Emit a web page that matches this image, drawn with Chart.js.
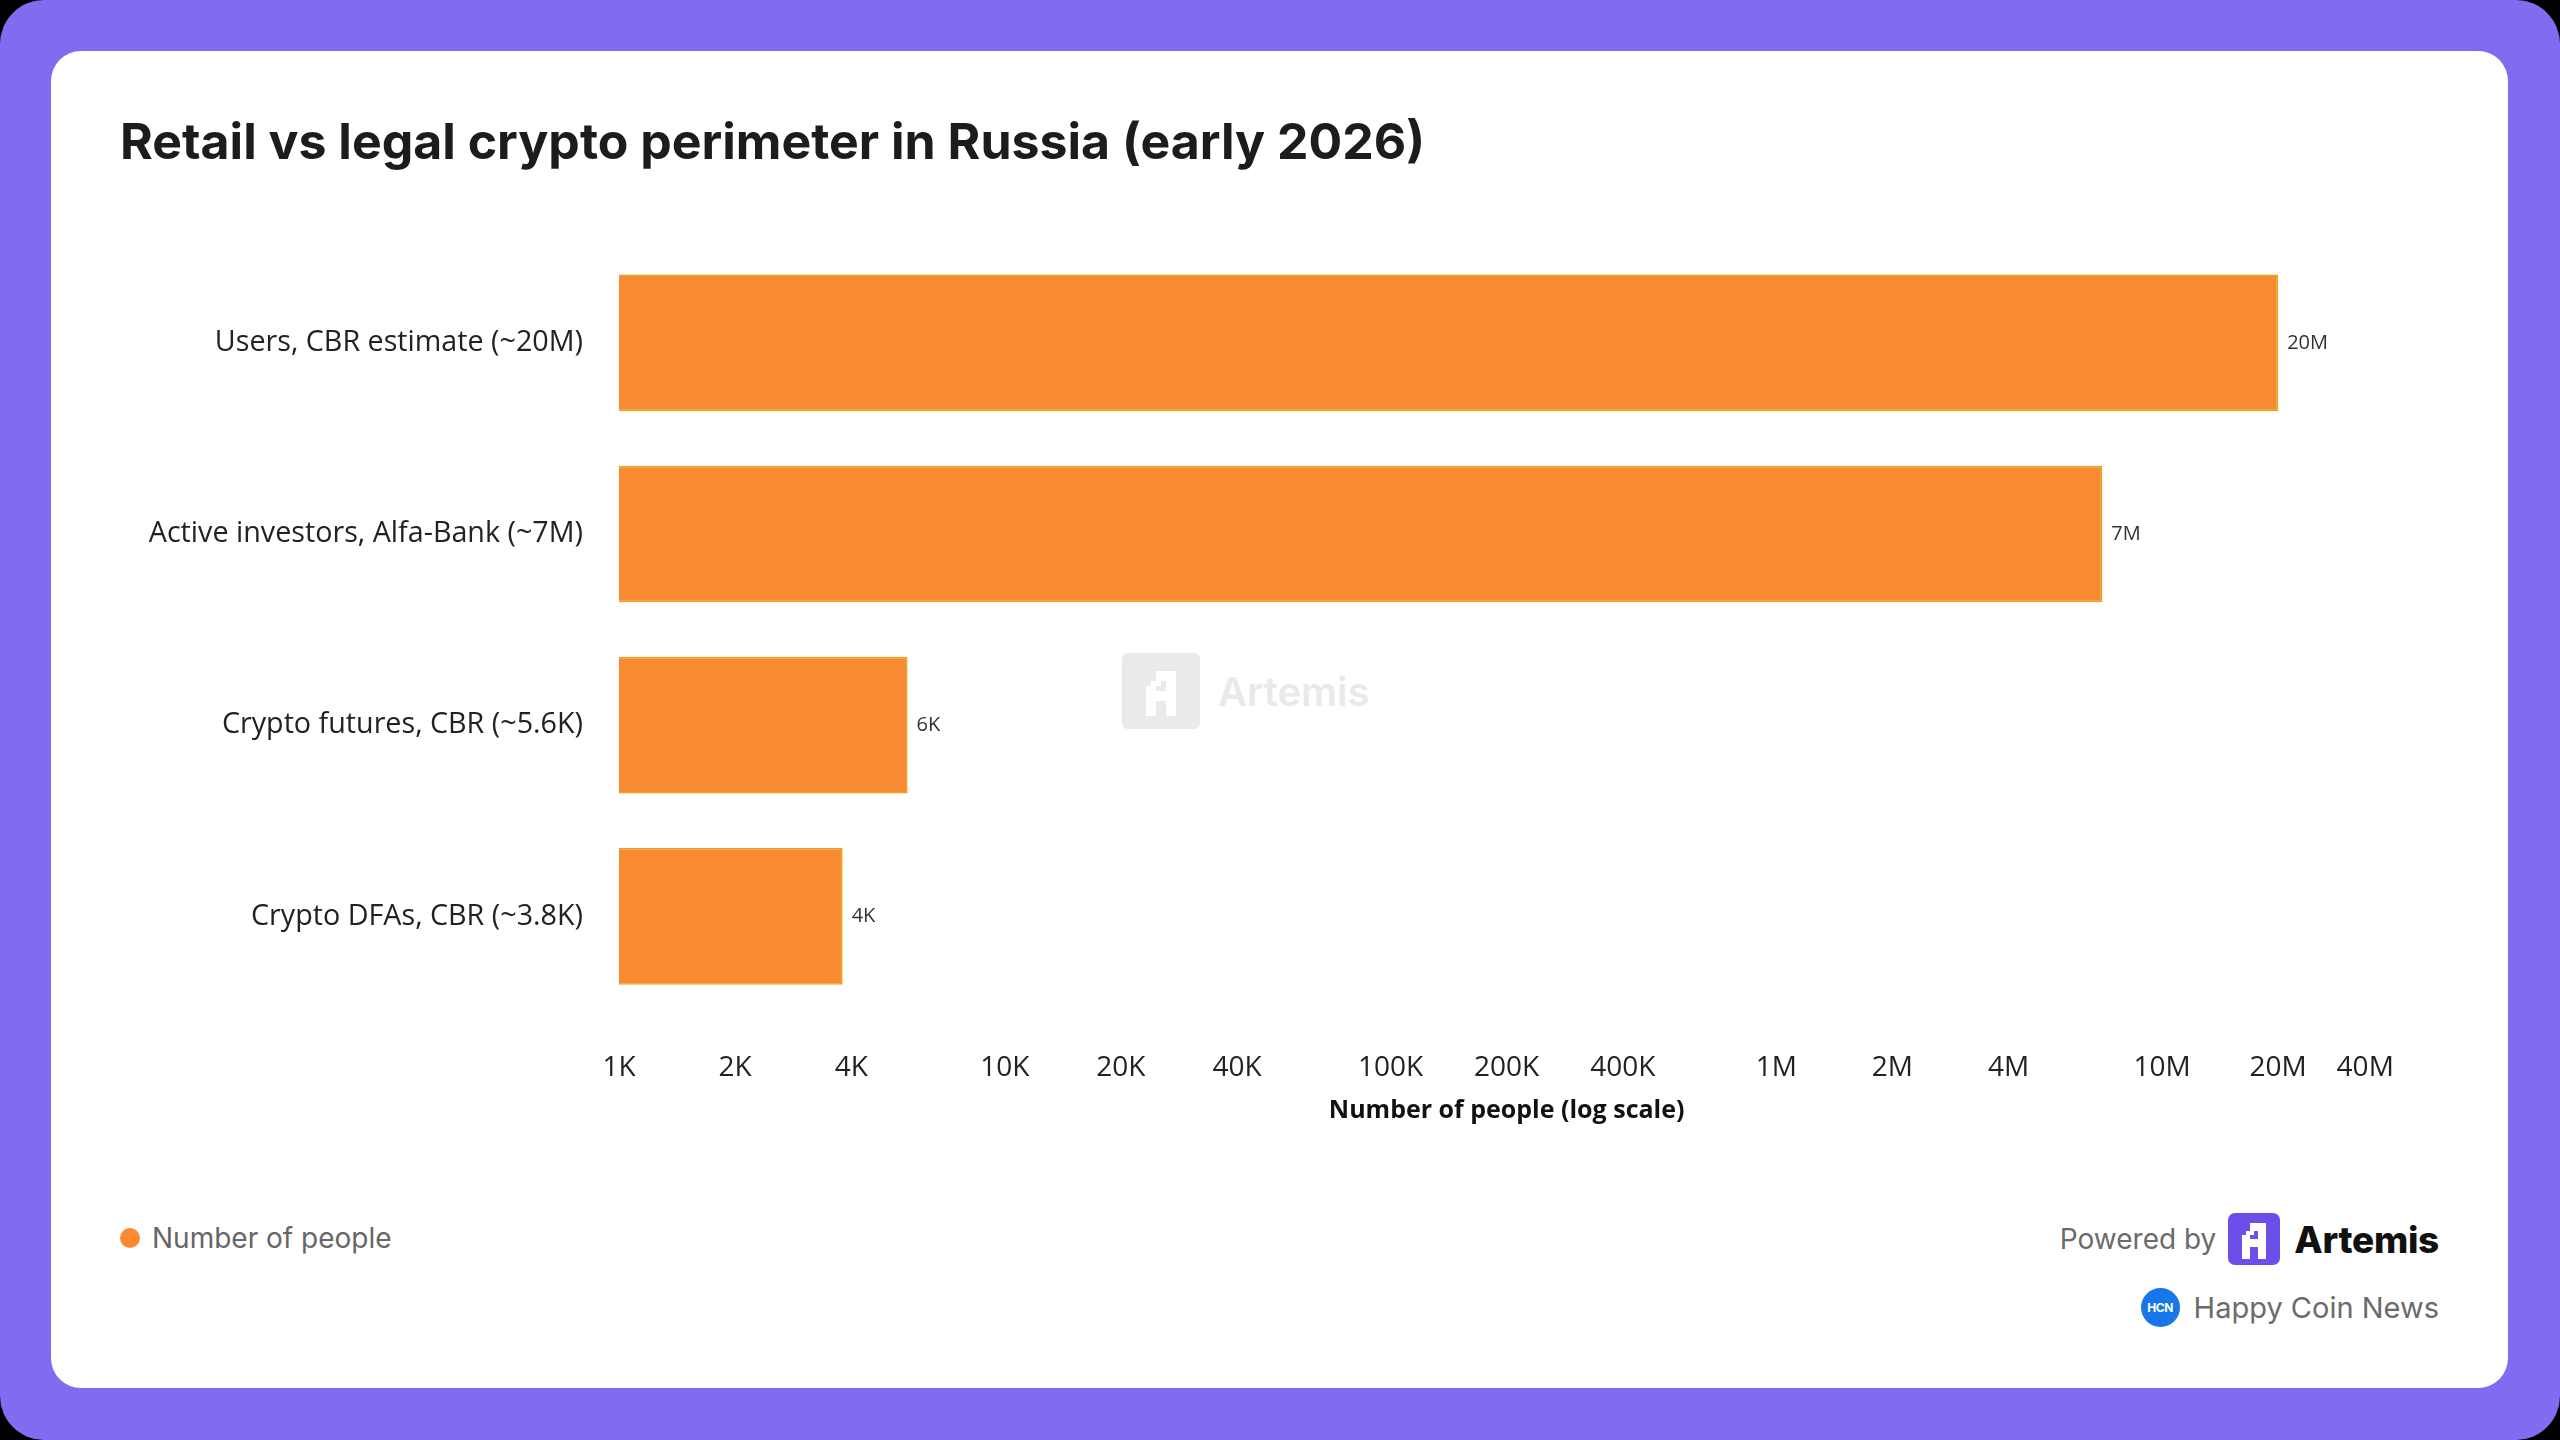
<!DOCTYPE html>
<html>
<head>
<meta charset="utf-8">
<script src="https://cdn.jsdelivr.net/npm/chart.js@4.4.1/dist/chart.umd.min.js"></script>
<style>
  html, body { margin: 0; padding: 0; background: #000; }
  .frame { position: relative; width: 2560px; height: 1440px; background: #806CF0; border-radius: 44px; overflow: hidden; }
  .card { position: absolute; left: 51px; top: 51px; width: 2457px; height: 1337px; background: #fff; border-radius: 30px; }
  .title { position: absolute; left: 69px; top: 62px; margin: 0; font-family: Inter, sans-serif; font-weight: 700; font-size: 50px; line-height: 56px; color: #1c1c1c; white-space: nowrap; }
  #chartWrap { position: absolute; left: 69px; top: 151px; width: 2363px; height: 940px; }
  .watermark { position: absolute; left: 1071px; top: 602px; display: flex; align-items: center; opacity: 0.5; }
  .watermark .sq { width: 78px; height: 76px; background: #d6d6d6; border-radius: 6px; display: flex; align-items: center; justify-content: center; }
  .watermark span { margin-left: 18px; font-family: Inter, sans-serif; font-weight: 600; font-size: 40px; color: #d4d4d4; }
  .legend { position: absolute; left: 69px; top: 1170px; display: flex; align-items: center; font-family: Inter, sans-serif; font-size: 28px; color: #666; }
  .legend .dot { width: 20px; height: 20px; border-radius: 50%; background: #F88A31; margin-right: 12px; margin-left: 0; }
  .powered { position: absolute; right: 69px; top: 1162px; display: flex; align-items: center; font-family: Inter, sans-serif; }
  .powered .pb { font-size: 28px; color: #6b6b6b; margin-right: 12px; }
  .powered .brand { font-size: 37px; font-weight: 800; color: #111; margin-left: 14px; letter-spacing: -0.3px; }
  .hcn { position: absolute; right: 69px; top: 1237px; display: flex; align-items: center; font-family: Inter, sans-serif; font-size: 29px; color: #6b6b6b; }
  .hcn .logo { width: 39px; height: 39px; border-radius: 50%; background: #1877E8; color: #fff; font-size: 12px; font-weight: 700; display: flex; align-items: center; justify-content: center; margin-right: 14px; letter-spacing: -0.5px; }
</style>
</head>
<body>
<div class="frame">
  <div class="card">
    <h1 class="title">Retail vs legal crypto perimeter in Russia (early 2026)</h1>
    <div class="watermark">
      <div class="sq">
        <svg width="50" height="52" viewBox="0 0 10 10"><path fill="#fff" d="M4 1h4v9H6V7H4v3H2V4h1V3h1z M4 5h2V3H5v1H4z" fill-rule="evenodd"/></svg>
      </div>
      <span>Artemis</span>
    </div>
    <div id="chartWrap"><canvas id="chart"></canvas></div>
    <div class="legend"><div class="dot"></div>Number of people</div>
    <div class="powered">
      <span class="pb">Powered by</span>
      <svg width="52" height="52" viewBox="0 0 52 52"><rect width="52" height="52" rx="7" fill="#6C4FE8"/><g transform="translate(6,6) scale(4)"><path fill="#fff" d="M4 1h4v9H6V7H4v3H2V4h1V3h1z M4 5h2V3H5v1H4z" fill-rule="evenodd"/></g></svg>
      <span class="brand">Artemis</span>
    </div>
    <div class="hcn"><div class="logo">HCN</div>Happy Coin News</div>
  </div>
</div>
<script>
const categories = [
  'Users, CBR estimate (~20M)',
  'Active investors, Alfa-Bank (~7M)',
  'Crypto futures, CBR (~5.6K)',
  'Crypto DFAs, CBR (~3.8K)'
];
const peopleCounts = [20000000, 7000000, 5600, 3800];
const tickValues = [1e3, 2e3, 4e3, 1e4, 2e4, 4e4, 1e5, 2e5, 4e5, 1e6, 2e6, 4e6, 1e7, 2e7, 4e7];

function fmt(v) {
  if (v >= 1e6) return Math.round(v / 1e6) + 'M';
  return Math.round(v / 1e3) + 'K';
}

// value labels at the end of each bar
const barValueLabels = {
  id: 'barValueLabels',
  afterDatasetsDraw(chart) {
    const ctx = chart.ctx;
    const meta = chart.getDatasetMeta(0);
    ctx.save();
    ctx.font = '20px "Open Sans"';
    ctx.fillStyle = '#333';
    ctx.textBaseline = 'middle';
    meta.data.forEach((bar, i) => {
      ctx.fillText(fmt(peopleCounts[i]), bar.x + 9, bar.y);
    });
    ctx.restore();
  }
};

new Chart(document.getElementById('chart'), {
  type: 'bar',
  data: {
    labels: categories,
    datasets: [{
      label: 'Number of people',
      data: peopleCounts,
      backgroundColor: '#F88A31',
      borderColor: '#ECA216',
      borderWidth: 1.5,
      categoryPercentage: 1,
      barPercentage: 0.715
    }]
  },
  options: {
    indexAxis: 'y',
    responsive: true,
    maintainAspectRatio: false,
    animation: false,
    layout: { padding: { top: 15, right: 64, left: 0, bottom: 0 } },
    scales: {
      x: {
        type: 'logarithmic',
        min: 1000,
        max: 40000000,
        grid: { display: false },
        border: { display: false },
        afterBuildTicks: scale => { scale.ticks = tickValues.map(v => ({ value: v })); },
        afterFit: scale => { scale.height = 130; },
        ticks: {
          autoSkip: false,
          maxRotation: 0,
          padding: 31,
          color: '#222',
          font: { family: 'Open Sans', size: 28 },
          // last label sits flush with the axis end, so pad it on the right
          callback: (v, i, ticks) => i === ticks.length - 1 ? fmt(v) + '        ' : fmt(v)
        },
        title: {
          display: true,
          text: 'Number of people (log scale)',
          color: '#111',
          font: { family: 'Open Sans', size: 25, weight: 'bold' },
          padding: { top: 4, bottom: 16 }
        }
      },
      y: {
        grid: { display: false },
        border: { display: false },
        afterFit: scale => { scale.width = 499; },
        ticks: {
          padding: 28,
          color: '#222',
          font: { family: 'Open Sans', size: 28.7 }
        }
      }
    },
    plugins: {
      legend: { display: false },
      tooltip: { enabled: false }
    }
  },
  plugins: [barValueLabels]
});
</script>
</body>
</html>
